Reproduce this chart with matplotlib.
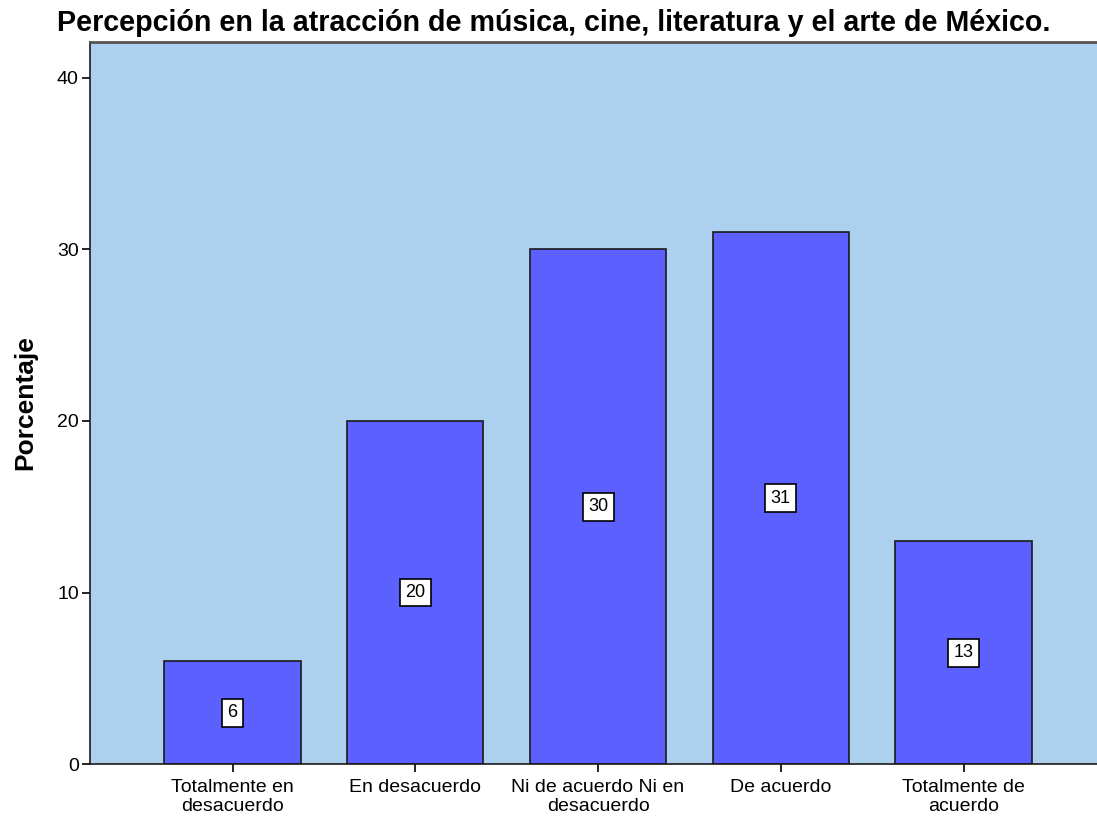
import matplotlib
matplotlib.use('Agg')
import matplotlib.pyplot as plt
import numpy as np

plt.rcParams['font.family'] = ['Liberation Sans', 'DejaVu Sans']

categorias = ['Totalmente en\ndesacuerdo', 'En desacuerdo', 'Ni de acuerdo Ni en\ndesacuerdo',
              'De acuerdo', 'Totalmente de\nacuerdo']
porcentajes = [6, 20, 30, 31, 13]
etiquetas = ['6', '20', '30', '31', '13']

fig = plt.figure(figsize=(10.97, 8.19), dpi=100)
ax = fig.add_axes([0.082, 0.067, 0.918, 0.882])
ax.set_facecolor('#add0ee')

x = np.arange(len(categorias))
ax.bar(x, porcentajes, width=0.745, color='#5b60ff', edgecolor='#1a1a1a', linewidth=1.2, zorder=2)

# etiquetas en el centro de cada barra
for xi, v, t in zip(x, porcentajes, etiquetas):
    ax.text(xi, v / 2, t, ha='center', va='center', fontsize=13, zorder=3,
            bbox=dict(boxstyle='square,pad=0.3', fc='white', ec='black', lw=1.2))

ax.set_xlim(-0.78, 4.73)
ax.set_ylim(0, 42.1)
ax.set_yticks([0, 10, 20, 30, 40])
ax.set_xticks(x)
ax.set_xticklabels(categorias, fontsize=14, linespacing=1.1)
ax.tick_params(axis='y', labelsize=14, length=6, width=1.2, direction='out', pad=2)
ax.tick_params(axis='x', length=6, width=1.2, direction='out', pad=5)

for s in ['left', 'bottom']:
    ax.spines[s].set_color('#1a1a1a')
    ax.spines[s].set_linewidth(1.2)
ax.spines['top'].set_color('#555555')
ax.spines['top'].set_linewidth(2)
ax.spines['right'].set_visible(False)

ax.set_ylabel('Porcentaje', fontsize=19, fontweight='bold', labelpad=14)
fig.text(0.052, 0.962, 'Percepción en la atracción de música, cine, literatura y el arte de México.',
         fontsize=20.6, fontweight='bold', ha='left', va='baseline')

plt.savefig('out.png', dpi=100)
